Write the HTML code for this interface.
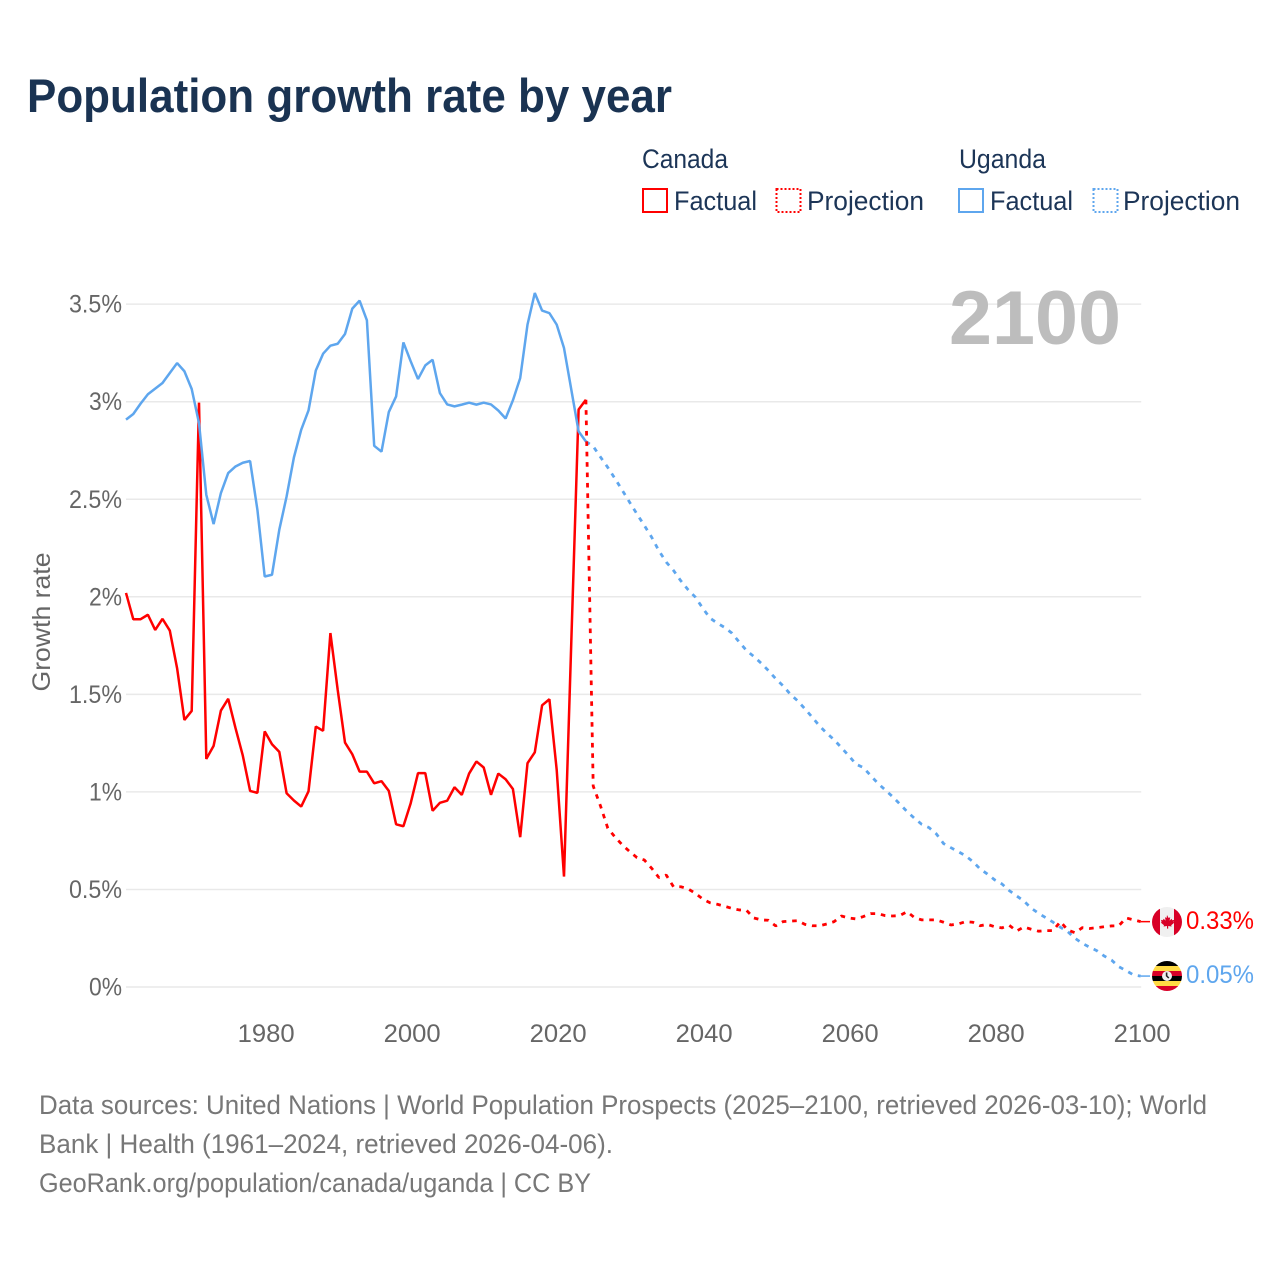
<!DOCTYPE html>
<html lang="en">
<head>
<meta charset="utf-8">
<title>Population growth rate by year</title>
<style>
html,body{margin:0;padding:0;background:#fff;}
svg{display:block;font-family:"Liberation Sans",sans-serif;}
</style>
</head>
<body>
<svg id="chart" xmlns="http://www.w3.org/2000/svg" width="1280" height="1280" viewBox="0 0 1280 1280">
  <rect x="0" y="0" width="1280" height="1280" fill="#ffffff"/>
  <text x="27" y="112" font-size="47" font-weight="700" fill="#1a3352" textLength="645" lengthAdjust="spacingAndGlyphs">Population growth rate by year</text>

  <g font-size="27" fill="#1c3557">
    <text x="642" y="168" textLength="86" lengthAdjust="spacingAndGlyphs">Canada</text>
    <text x="959" y="168" textLength="87" lengthAdjust="spacingAndGlyphs">Uganda</text>
    <rect x="643" y="189" width="24" height="23" fill="none" stroke="#ff0000" stroke-width="2"/>
    <text x="674" y="210" textLength="83" lengthAdjust="spacingAndGlyphs">Factual</text>
    <rect x="776.5" y="189" width="24" height="23" fill="none" stroke="#ff0000" stroke-width="2" stroke-dasharray="2 2"/>
    <text x="807" y="210" textLength="117" lengthAdjust="spacingAndGlyphs">Projection</text>
    <rect x="959" y="189" width="24" height="23" fill="none" stroke="#5ea6ee" stroke-width="2"/>
    <text x="990" y="210" textLength="83" lengthAdjust="spacingAndGlyphs">Factual</text>
    <rect x="1093.5" y="189" width="24" height="23" fill="none" stroke="#5ea6ee" stroke-width="2" stroke-dasharray="2 2"/>
    <text x="1123" y="210" textLength="117" lengthAdjust="spacingAndGlyphs">Projection</text>
  </g>

  <text transform="translate(50,622) rotate(-90)" text-anchor="middle" font-size="25" fill="#666666" textLength="139" lengthAdjust="spacingAndGlyphs">Growth rate</text>

  <g id="grid"></g>
  <g id="yticks" font-size="25" fill="#666666"></g>
  <g id="xticks" font-size="25" fill="#666666"></g>

  <text x="949" y="344" font-size="76" font-weight="700" fill="#bdbdbd" textLength="172" lengthAdjust="spacingAndGlyphs">2100</text>

  <g id="series"></g>

  <defs>
    <clipPath id="flag-clip-ca"><circle cx="1167" cy="922" r="15"/></clipPath>
    <clipPath id="flag-clip-ug"><circle cx="1167" cy="976" r="15"/></clipPath>
  </defs>

  <g clip-path="url(#flag-clip-ca)">
    <rect x="1152" y="907" width="30" height="30" fill="#f0f0f0"/>
    <rect x="1152" y="907" width="8" height="30" fill="#d80027"/>
    <rect x="1174" y="907" width="8" height="30" fill="#d80027"/>
    <path d="M1167 915l1.6 3 1.6-.8-.6 3.4 2-1.8.6 1.4 2-.3-.6 2.2 .8.5-3.2 2.6 .4 1.3-3.4-.5 0 2.6h-1.2l0-2.6-3.4.5 .4-1.3-3.2-2.6 .8-.5-.6-2.2 2 .3 .6-1.4 2 1.8-.6-3.4 1.6.8z" fill="#d80027"/>
  </g>
  <g clip-path="url(#flag-clip-ug)">
    <rect x="1152" y="961" width="30" height="5" fill="#000000"/>
    <rect x="1152" y="966" width="30" height="5" fill="#ffda44"/>
    <rect x="1152" y="971" width="30" height="5" fill="#d80027"/>
    <rect x="1152" y="976" width="30" height="5" fill="#000000"/>
    <rect x="1152" y="981" width="30" height="5" fill="#ffda44"/>
    <rect x="1152" y="986" width="30" height="5" fill="#d80027"/>
    <circle cx="1167" cy="976" r="5" fill="#f0f0f0"/>
    <path d="M1165.8 972.5h1.6v3l2 2.2-1.2.8-2.4-2.4z" fill="#222222"/>
  </g>

  <text x="1186" y="929" font-size="25" fill="#ff0000" textLength="68" lengthAdjust="spacingAndGlyphs">0.33%</text>
  <text x="1186" y="983" font-size="25" fill="#5ea6ee" textLength="68" lengthAdjust="spacingAndGlyphs">0.05%</text>

  <g font-size="27" fill="#777777">
    <text x="39" y="1114" textLength="1168" lengthAdjust="spacingAndGlyphs">Data sources: United Nations | World Population Prospects (2025–2100, retrieved 2026-03-10); World</text>
    <text x="39" y="1153" textLength="574" lengthAdjust="spacingAndGlyphs">Bank | Health (1961–2024, retrieved 2026-04-06).</text>
    <text x="39" y="1192" textLength="552" lengthAdjust="spacingAndGlyphs">GeoRank.org/population/canada/uganda | CC BY</text>
  </g>
</svg>

<script>
var firstFactualYear = 1961;
var firstProjectionYear = 2024;
var lastYear = 2100;

var yTickValues = [0, 0.5, 1, 1.5, 2, 2.5, 3, 3.5];
var yTickLabels = ["0%", "0.5%", "1%", "1.5%", "2%", "2.5%", "3%", "3.5%"];
var xTickYears = [1980, 2000, 2020, 2040, 2060, 2080, 2100];

var canadaFactual = [2.02,1.885,1.885,1.908,1.83,1.887,1.827,1.634,1.369,1.415,2.995,1.169,1.236,1.417,1.477,1.327,1.186,1.005,0.995,1.31,1.244,1.205,0.993,0.956,0.925,1.003,1.335,1.313,1.814,1.523,1.253,1.193,1.104,1.104,1.044,1.055,1.005,0.834,0.824,0.942,1.096,1.096,0.903,0.944,0.955,1.024,0.985,1.094,1.156,1.125,0.985,1.094,1.065,1.015,0.768,1.147,1.203,1.444,1.475,1.113,0.566,1.77,2.96,3.01];

var ugandaFactual = [2.908,2.937,2.99,3.038,3.067,3.096,3.147,3.198,3.156,3.065,2.89,2.523,2.373,2.532,2.634,2.668,2.687,2.696,2.446,2.104,2.113,2.344,2.514,2.714,2.856,2.955,3.16,3.246,3.287,3.297,3.347,3.477,3.518,3.417,2.774,2.744,2.947,3.027,3.304,3.207,3.116,3.186,3.215,3.044,2.986,2.976,2.985,2.995,2.985,2.995,2.986,2.955,2.914,3.007,3.121,3.395,3.557,3.467,3.454,3.395,3.275,3.062,2.848,2.796];

var canadaProjection = [3.01,1.03,0.928,0.814,0.768,0.728,0.694,0.663,0.651,0.609,0.561,0.574,0.514,0.514,0.503,0.48,0.451,0.432,0.424,0.414,0.403,0.395,0.393,0.354,0.344,0.342,0.313,0.335,0.338,0.34,0.321,0.314,0.314,0.323,0.335,0.364,0.354,0.349,0.361,0.376,0.376,0.366,0.364,0.366,0.386,0.356,0.344,0.344,0.344,0.332,0.318,0.323,0.335,0.332,0.314,0.321,0.309,0.303,0.316,0.287,0.308,0.296,0.286,0.289,0.289,0.335,0.292,0.278,0.304,0.3,0.304,0.309,0.313,0.314,0.354,0.344,0.335];

var ugandaProjection = [2.796,2.771,2.716,2.663,2.605,2.545,2.484,2.424,2.366,2.306,2.236,2.178,2.135,2.082,2.036,1.998,1.942,1.891,1.865,1.843,1.814,1.768,1.725,1.694,1.66,1.622,1.58,1.544,1.501,1.467,1.426,1.383,1.338,1.301,1.267,1.227,1.186,1.142,1.125,1.084,1.044,1.01,0.976,0.938,0.899,0.865,0.834,0.817,0.785,0.735,0.714,0.694,0.673,0.643,0.605,0.579,0.549,0.528,0.494,0.467,0.441,0.404,0.378,0.355,0.332,0.306,0.284,0.25,0.224,0.204,0.186,0.159,0.138,0.104,0.084,0.062,0.056];

var SVG_NS = "http://www.w3.org/2000/svg";
var RED = "#ff0000";
var BLUE = "#5ea6ee";

function xScale(year) { return 126 + (year - 1961) * 7.3; }
function yScale(value) { return 987 - value * 195.1; }

function linePath(values, startYear) {
  var d = "";
  for (var i = 0; i < values.length; i++) {
    d += (i === 0 ? "M" : "L") + xScale(startYear + i).toFixed(2) + " " + yScale(values[i]).toFixed(2);
  }
  return d;
}

function yLabelWidth(label) {
  var w = 18.6;
  for (var i = 0; i < label.length; i++) {
    if (label[i] === ".") { w += 5.6; }
    else if (label[i] !== "%") { w += 14.4; }
  }
  return w;
}

var gridGroup = document.getElementById("grid");
var yTickGroup = document.getElementById("yticks");
for (var t = 0; t < yTickValues.length; t++) {
  var gl = document.createElementNS(SVG_NS, "line");
  
  
  gl.setAttribute("x1", xScale(firstFactualYear));
  gl.setAttribute("x2", xScale(lastYear) + 0.5);
  gl.setAttribute("y1", yScale(yTickValues[t]));
  gl.setAttribute("y2", yScale(yTickValues[t]));
  gl.setAttribute("stroke", "#e9e9e9");
  gl.setAttribute("stroke-width", "1.5");
  gridGroup.appendChild(gl);

  var yl = document.createElementNS(SVG_NS, "text");
  
  
  yl.setAttribute("x", 122 - yLabelWidth(yTickLabels[t]));
  yl.setAttribute("y", yScale(yTickValues[t]) + 8.5);
  yl.setAttribute("textLength", yLabelWidth(yTickLabels[t]));
  yl.setAttribute("lengthAdjust", "spacingAndGlyphs");
  yl.textContent = yTickLabels[t];
  yTickGroup.appendChild(yl);
}

var xTickGroup = document.getElementById("xticks");
for (var k = 0; k < xTickYears.length; k++) {
  var xl = document.createElementNS(SVG_NS, "text");
  
  
  xl.setAttribute("x", xScale(xTickYears[k]) + 1.5 - 28.5);
  xl.setAttribute("y", 1042);
  xl.setAttribute("textLength", "57");
  xl.setAttribute("lengthAdjust", "spacingAndGlyphs");
  xl.textContent = String(xTickYears[k]);
  xTickGroup.appendChild(xl);
}

var seriesGroup = document.getElementById("series");

function addLine(name, values, startYear, color, dashed) {
  var p = document.createElementNS(SVG_NS, "path");
  
  
  p.setAttribute("d", linePath(values, startYear));
  p.setAttribute("fill", "none");
  p.setAttribute("stroke", color);
  p.setAttribute("stroke-width", dashed ? "2.8" : "2.5");
  p.setAttribute("stroke-linejoin", "bevel");
  if (dashed) { p.setAttribute("stroke-dasharray", "4.6 5.8"); }
  seriesGroup.appendChild(p);
}

addLine("line-canada-factual", canadaFactual, firstFactualYear, RED, false);
addLine("line-uganda-factual", ugandaFactual, firstFactualYear, BLUE, false);
addLine("line-uganda-projection", ugandaProjection, firstProjectionYear, BLUE, true);
addLine("line-canada-projection", canadaProjection, firstProjectionYear, RED, true);

function addConnector(name, value, color) {
  var c = document.createElementNS(SVG_NS, "line");
  
  
  c.setAttribute("x1", xScale(lastYear));
  c.setAttribute("x2", 1150);
  c.setAttribute("y1", yScale(value));
  c.setAttribute("y2", yScale(value));
  c.setAttribute("stroke", color);
  c.setAttribute("stroke-width", "1.5");
  seriesGroup.appendChild(c);
}
addConnector("connector-canada", canadaProjection[canadaProjection.length - 1], RED);
addConnector("connector-uganda", ugandaProjection[ugandaProjection.length - 1], BLUE);
</script>
</body>
</html>
